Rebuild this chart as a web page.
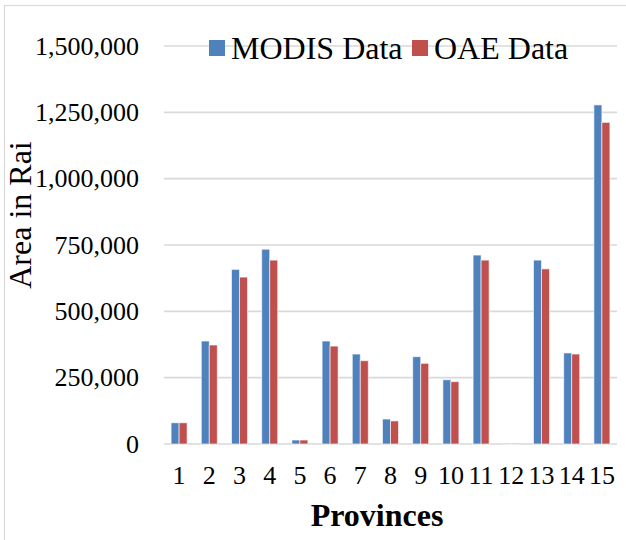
<!DOCTYPE html>
<html>
<head>
<meta charset="utf-8">
<script src="https://cdn.jsdelivr.net/npm/d3@7"></script>
<style>
  body { margin: 0; background: #fff; }
  text { font-family: 'Liberation Serif', 'Times New Roman', serif; fill: #000; }
</style>
</head>
<body>
<div id="chart"></div>
<script>
const provinces = ['1', '2', '3', '4', '5', '6', '7', '8', '9', '10', '11', '12', '13', '14', '15']

const modisData = [80000, 388000, 658000, 734000, 15000, 388000, 339000, 94000, 329000, 242000, 712000, 2000, 693000, 343000, 1278000]

const oaeData = [80000, 373000, 629000, 693000, 15000, 369000, 314000, 87000, 304000, 235000, 693000, 2000, 660000, 339000, 1212000]

const seriesNames = ['MODIS Data', 'OAE Data']
const seriesColors = ['#4f81bd', '#c0504d']

const yTicks = [0, 250000, 500000, 750000, 1000000, 1250000, 1500000]

const width = 626
const height = 540
const plot = { left: 164, right: 617, top: 46, bottom: 444 }

const svg = d3
  .select('#chart')
  .append('svg')
  .attr('width', width)
  .attr('height', height)

// light frame round the chart area
svg
  .append('rect')
  .attr('x', 4.5)
  .attr('y', 5.5)
  .attr('width', 700)
  .attr('height', 600)
  .attr('fill', 'none')
  .attr('stroke', '#d9d9d9')
  .attr('stroke-width', 1.2)

const xScale = d3
  .scaleBand()
  .domain(provinces)
  .range([plot.left, plot.right])
  .padding(0)

const innerScale = d3
  .scaleBand()
  .domain(seriesNames)
  .range([0, 16])
  .padding(0)

const yScale = d3
  .scaleLinear()
  .domain([0, 1500000])
  .range([plot.bottom, plot.top])

const fmt = d3.format(',')

// gridlines + y labels
svg
  .selectAll('.grid')
  .data(yTicks)
  .enter()
  .append('line')
  .attr('class', 'grid')
  .attr('x1', plot.left)
  .attr('x2', plot.right)
  .attr('y1', d => yScale(d))
  .attr('y2', d => yScale(d))
  .attr('stroke', '#d9d9d9')
  .attr('stroke-width', 1.6)

svg
  .selectAll('.y-label')
  .data(yTicks)
  .enter()
  .append('text')
  .attr('class', 'y-label')
  .attr('x', 139)
  .attr('y', d => yScale(d))
  .attr('dy', '0.33em')
  .attr('text-anchor', 'end')
  .attr('font-size', 26)
  .text(d => fmt(d))

const rows = provinces.map((p, i) => ({
  province: p,
  values: [
    { name: seriesNames[0], value: modisData[i] },
    { name: seriesNames[1], value: oaeData[i] }
  ]
}))

const groups = svg
  .selectAll('.group')
  .data(rows)
  .enter()
  .append('g')
  .attr('class', 'group')
  .attr('transform', d => 'translate(' + (xScale(d.province) + xScale.bandwidth() / 2 - 8) + ',0)')

groups
  .selectAll('rect')
  .data(d => d.values)
  .enter()
  .append('rect')
  .attr('x', d => innerScale(d.name))
  .attr('width', innerScale.bandwidth())
  .attr('y', d => yScale(d.value))
  .attr('height', d => yScale(0) - yScale(d.value))
  .attr('fill', d => seriesColors[seriesNames.indexOf(d.name)])
  .attr('stroke', 'rgba(255,255,255,0.6)')
  .attr('stroke-width', 1)

// x labels
svg
  .selectAll('.x-label')
  .data(provinces)
  .enter()
  .append('text')
  .attr('class', 'x-label')
  .attr('x', d => xScale(d) + xScale.bandwidth() / 2)
  .attr('y', 484)
  .attr('text-anchor', 'middle')
  .attr('font-size', 26)
  .text(d => d)

// axis titles
svg
  .append('text')
  .attr('transform', 'translate(31,215) rotate(-90)')
  .attr('text-anchor', 'middle')
  .attr('font-size', 32)
  .text('Area in Rai')

svg
  .append('text')
  .attr('x', 377)
  .attr('y', 526)
  .attr('text-anchor', 'middle')
  .attr('font-size', 32)
  .attr('font-weight', 700)
  .text('Provinces')

// legend, no background so the top gridline runs behind it
const legendX = [209, 412]
const legend = svg
  .selectAll('.legend')
  .data(seriesNames)
  .enter()
  .append('g')
  .attr('class', 'legend')
  .attr('transform', (d, i) => 'translate(' + legendX[i] + ',40)')

legend
  .append('rect')
  .attr('width', 16)
  .attr('height', 16)
  .attr('fill', (d, i) => seriesColors[i])

legend
  .append('text')
  .attr('x', 22)
  .attr('y', 19)
  .attr('font-size', 32)
  .text(d => d)
</script>
</body>
</html>
